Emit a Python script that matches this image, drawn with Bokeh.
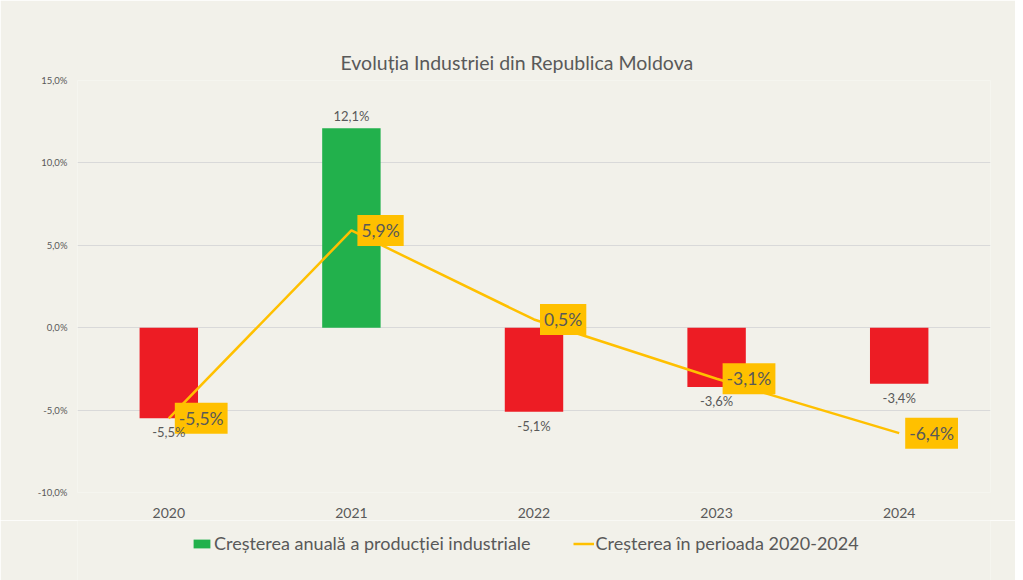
from bokeh.plotting import figure
from bokeh.layouts import column
from bokeh.models import ColumnDataSource, LabelSet, Legend, LegendItem, FixedTicker
from bokeh.core.properties import value
from bokeh.embed import file_html
from bokeh.resources import INLINE

years = ["2020", "2021", "2022", "2023", "2024"]
annual_growth = [-5.5, 12.1, -5.1, -3.6, -3.4]
period_growth = [-5.5, 5.9, 0.5, -3.1, -6.4]
y_ticks = [-10, -5, 0, 5, 10, 15]
y_tick_labels = ["-10,0%", "-5,0%", "0,0%", "5,0%", "10,0%", "15,0%"]

title_text = "Evoluția Industriei din Republica Moldova"
bar_series_name = "Creșterea anuală a producției industriale"
line_series_name = "Creșterea în perioada 2020-2024"

FONT = "Lato"
TEXT_COLOR = "#595959"
GREEN = "#22B14C"
RED = "#ED1C24"
GOLD = "#FFC000"
BG = "#F2F1EA"

def pct(v):
    return f"{v:.1f}".replace(".", ",") + "%"

bar_src = ColumnDataSource(dict(
    x=years,
    top=annual_growth,
    color=[GREEN if v >= 0 else RED for v in annual_growth],
    label=[pct(v) for v in annual_growth],
    baseline=["bottom" if v >= 0 else "top" for v in annual_growth],
    yoff=[4 if v >= 0 else -6 for v in annual_growth],
))
line_src = ColumnDataSource(dict(
    x=years,
    y=period_growth,
    label=[pct(v) for v in period_growth],
))

p = figure(
    x_range=years, y_range=(-10, 15),
    width=1015, height=520,
    output_backend="svg", toolbar_location=None,
    min_border_left=77, min_border_right=25, min_border_top=80, min_border_bottom=28,
    background_fill_color=BG, border_fill_color=BG,
    outline_line_color=None,
)
p.x_range.range_padding = 0

bars = p.vbar(x="x", top="top", width=0.32, source=bar_src,
              fill_color="color", line_color=None)
line = p.line(x="x", y="y", source=line_src, line_color=GOLD, line_width=2.5)

# bar labels
bar_labels = LabelSet(x="x", y="top", text="label", source=bar_src,
                      text_align="center", text_baseline={"field": "baseline"},
                      y_offset={"field": "yoff"},
                      text_font=value(FONT), text_font_size="13px", text_color=TEXT_COLOR)
p.add_layout(bar_labels)

# line labels
p.text(x="x", y="y", text="label", source=line_src,
       text_align="left", text_baseline="middle", x_offset=6,
       text_font=value(FONT), text_font_size="17.5px", text_color=TEXT_COLOR,
       background_fill_color=GOLD,
       padding=dict(left=4, right=4, top=5, bottom=5))

# axes
p.yaxis.ticker = FixedTicker(ticks=y_ticks)
p.yaxis.major_label_overrides = {t: l for t, l in zip(y_ticks, y_tick_labels)}
p.yaxis.major_label_text_font_size = "9.5px"
p.yaxis.major_label_text_color = TEXT_COLOR
p.yaxis.major_label_text_font = FONT
p.yaxis.major_label_standoff = 4
p.xaxis.major_label_text_font_size = "14px"
p.xaxis.major_label_text_color = TEXT_COLOR
p.xaxis.major_label_text_font = FONT
p.xaxis.major_label_standoff = 9
for ax in (p.xaxis, p.yaxis):
    ax.axis_line_color = None
    ax.major_tick_line_color = None
    ax.minor_tick_line_color = None

p.xgrid.grid_line_color = None
p.ygrid.grid_line_color = "#D9D9D9"
p.ygrid.grid_line_width = 1

# title
p.title.text = title_text
p.title.align = "left"
p.title.offset = 263
p.title.standoff = 14
p.title.text_font = FONT
p.title.text_font_size = "19.5px"
p.title.text_font_style = "normal"
p.title.text_color = TEXT_COLOR

# legend strip below the chart (same data, renderers kept outside its visible range)
p2 = figure(
    x_range=p.x_range, y_range=(100, 101),
    width=1015, height=60,
    output_backend="svg", toolbar_location=None,
    min_border_left=0, min_border_right=0, min_border_top=0, min_border_bottom=0,
    background_fill_color=BG, border_fill_color=BG, outline_line_color=None,
)
p2.axis.visible = False
p2.grid.visible = False
bars2 = p2.vbar(x="x", top="top", width=0.32, source=bar_src,
                fill_color="color", line_color=None)
line2 = p2.line(x="x", y="y", source=line_src, line_color=GOLD, line_width=2.5)

legend = Legend(items=[
    LegendItem(label=bar_series_name, renderers=[bars2], index=1),
    LegendItem(label=line_series_name, renderers=[line2]),
], orientation="horizontal", location=(114, 26),
    background_fill_alpha=0, border_line_color=None,
    label_text_font=FONT, label_text_font_size="18px", label_text_color=TEXT_COLOR,
    glyph_width=21, glyph_height=11, spacing=42, label_standoff=2, padding=0, margin=0)
p2.add_layout(legend)

layout = column(p, p2, spacing=0)
open("out.html", "w").write(file_html(layout, INLINE))
